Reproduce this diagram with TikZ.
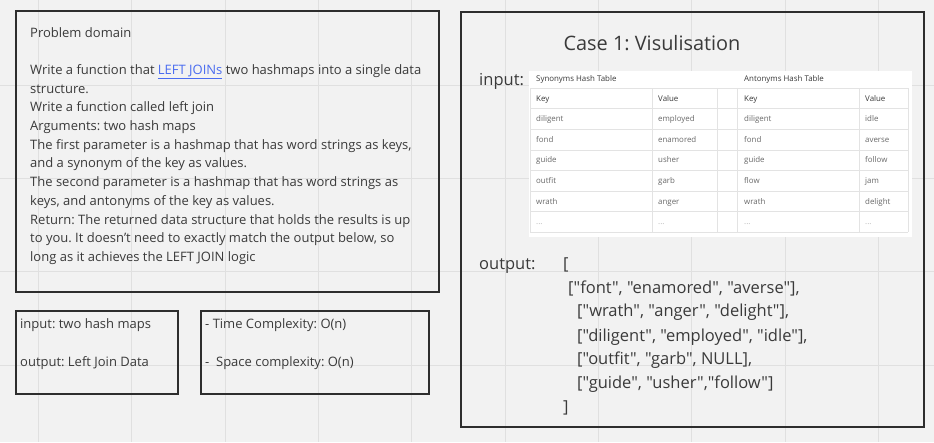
\documentclass[tikz,border=0pt]{standalone}
\usepackage{fontspec}
\setmainfont{Open Sans}[Ligatures=TeXOff]
\usetikzlibrary{positioning}
\definecolor{bggray}{HTML}{F2F2F2}
\definecolor{gridgray}{HTML}{E0E0E0}
\definecolor{boxgray}{HTML}{2E2E2E}
\definecolor{textgray}{HTML}{3A3A3A}
\definecolor{linkblue}{HTML}{4A6CF0}
\definecolor{cellline}{HTML}{E3E3E3}
\definecolor{celltext}{HTML}{6A6A6A}
\newcommand\celldots{\textcolor{celltext!50}{...}}
\frenchspacing

\begin{document}
\begin{tikzpicture}[x=1pt,y=-1pt,
  frame/.style={draw=boxgray,line width=1.6pt},
  txt/.style={anchor=base west,inner sep=0,text=textgray,font=\fontsize{13}{18.7}\selectfont},
  big/.style={anchor=base west,inner sep=0,text=textgray,font=\fontsize{16.5}{24}\selectfont},
  cell/.style={anchor=base west,inner sep=0,text=celltext,font=\fontsize{7.9}{9}\selectfont},
  head/.style={cell,text=textgray}]
\fill[bggray] (0,0) rectangle (934,442);
\useasboundingbox (0,0) rectangle (934,442);
\foreach \i in {0,...,9} \draw[gridgray] ({38.3+93.3*\i},0) -- ({38.3+93.3*\i},442);
\foreach \j in {0,...,3} \draw[gridgray] (0,{85+93.3*\j}) -- (934,{85+93.3*\j});

\draw[frame] (16,11) rectangle (439,292);
\draw[frame] (16,311) rectangle (178,394);
\draw[frame] (201,311) rectangle (429,394);
\draw[frame] (461,12) rectangle (924,427);

\node (pd) [txt,anchor=north west,align=left] at (30,27) {Problem domain\\[18.7pt]
Write a function that \textcolor{linkblue}{\underline{LEFT JOINs}} two hashmaps into a single data\\
structure.\\
Write a function called left join\\
Arguments: two hash maps\\
The first parameter is a hashmap that has word strings as keys,\\
and a synonym of the key as values.\\
The second parameter is a hashmap that has word strings as\\
keys, and antonyms of the key as values.\\
Return: The returned data structure that holds the results is up\\
to you. It doesn’t need to exactly match the output below, so\\
long as it achieves the LEFT JOIN logic};

\node (in) [txt] at (20,328.5) {input: two hash maps};
\node (out) [txt] at (20,366.5) {output: Left Join Data};
\node (tc) [txt] at (205,328.5) {- Time Complexity: O(n)};
\node (sc) [txt] at (205,366.5) {-\ \ Space complexity: O(n)};

\node (case) [inner sep=0,text=textgray,font=\fontsize{19.9}{22}\selectfont,anchor=base] at (652,50.5) {Case 1: Visulisation};
\node (inp) [big] at (479,85) {input:};

\fill[white] (529,71) rectangle (912,237);
\foreach \y in {88,108.6,...,233} \draw[cellline] (530,\y) -- (908,\y);
\foreach \x in {530,652,717,737,859,908} \draw[cellline] (\x,88) -- (\x,232);
\node (syn) [head] at (536,81) {Synonyms Hash Table};
\node (ant) [head] at (744,81) {Antonyms Hash Table};
\node (k1) [head] at (536,101) {Key};
\node (v1) [head] at (658,101) {Value};
\node (k2) [head] at (744,101) {Key};
\node (v2) [head] at (865,101) {Value};
\foreach \k/\v/\ka/\va [count=\r] in {diligent/employed/diligent/idle,fond/enamored/fond/averse,guide/usher/guide/follow,outfit/garb/flow/jam,wrath/anger/wrath/delight,\celldots/\celldots/\celldots/\celldots}{
  \node (sk\r) [cell] at (536,{101+20.6*\r}) {\k};
  \node (sv\r) [cell] at (658,{101+20.6*\r}) {\v};
  \node (ak\r) [cell] at (744,{101+20.6*\r}) {\ka};
  \node (av\r) [cell] at (865,{101+20.6*\r}) {\va};
}

\node (outp) [big] at (479,269) {output:};
\node (o0) [big] at (563,269) {[};
\node (o1) [big] at (568,293) {["font", "enamored", "averse"],};
\node (o2) [big] at (577,316) {["wrath", "anger", "delight"],};
\node (o3) [big] at (577,341) {["diligent", "employed", "idle"],};
\node (o4) [big] at (577,364) {["outfit", "garb", NULL],};
\node (o5) [big] at (577,388) {["guide", "usher","follow"]};
\node (o6) [big] at (563,412) {]};
\end{tikzpicture}
\end{document}
